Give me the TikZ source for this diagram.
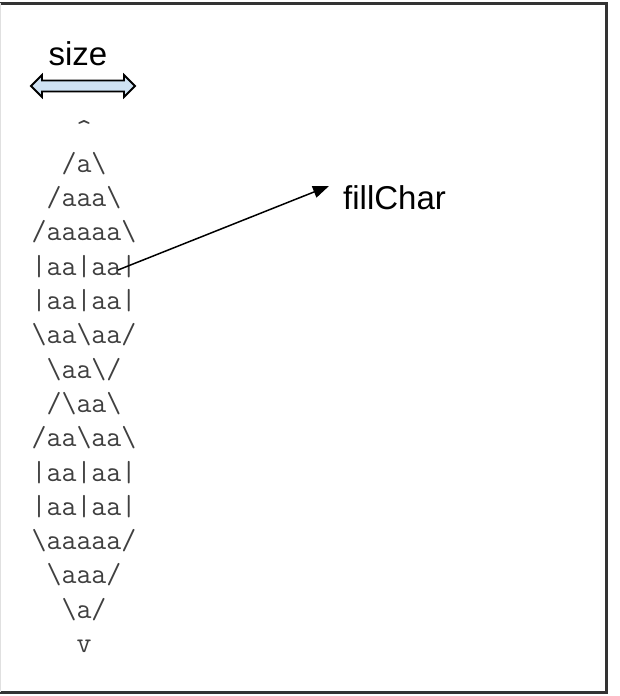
\documentclass[tikz,border=0pt]{standalone}
\usepackage{fontspec}
\setmainfont{Liberation Sans}
\usetikzlibrary{arrows.meta,positioning}
\definecolor{barfill}{HTML}{CFE2F3}
\definecolor{glyph}{HTML}{404040}
\tikzstyle{row} = [inner sep=0pt, anchor=base, text=glyph,
    font=\fontsize{29}{29}\ttfamily]
\tikzstyle{lbl} = [inner sep=0pt, font=\fontsize{33}{33}\selectfont]
\newcommand{\bs}{\textbackslash}

\begin{document}
\begin{tikzpicture}[x=1pt,y=-1pt,>={Triangle[length=16pt,width=12pt]}]
  \useasboundingbox (0,0) rectangle (620,696);
  \draw[line width=3pt, black!80] (0,3) -- (606,3) -- (606,692) -- (0,692);
  \draw[black!12] (0.5,3) -- (0.5,692);

  % size marker
  \node[lbl, anchor=base] (size) at (78,65) {size};
  \draw[line width=1.8pt, fill=barfill, line join=miter]
    (31,86) -- (42,75) -- (42,80.5) -- (124,80.5) -- (124,75) -- (135,86)
    -- (124,97) -- (124,91.5) -- (42,91.5) -- (42,97) -- cycle;

  % the figure, one row per line
  \foreach \txt [count=\i from 0] in {{\textasciicircum}, {/a\bs}, {/aaa\bs},
      {/aaaaa\bs}, {|aa|aa|}, {|aa|aa|}, {\bs aa\bs aa/}, {\bs aa\bs/},
      {/\bs aa\bs}, {/aa\bs aa\bs}, {|aa|aa|}, {|aa|aa|}, {\bs aaaaa/},
      {\bs aaa/}, {\bs a/}, {v}}
    \node[row] (r\i) at (84,{138+34.3*\i}) {\txt};

  \node[lbl, anchor=base west] (fill) at (343,209) {fillChar};
  \coordinate (src) at (118,270);
  \coordinate (tip) at (329,186);
  \draw[->, line width=1.5pt] (src) -- (tip);
\end{tikzpicture}
\end{document}
